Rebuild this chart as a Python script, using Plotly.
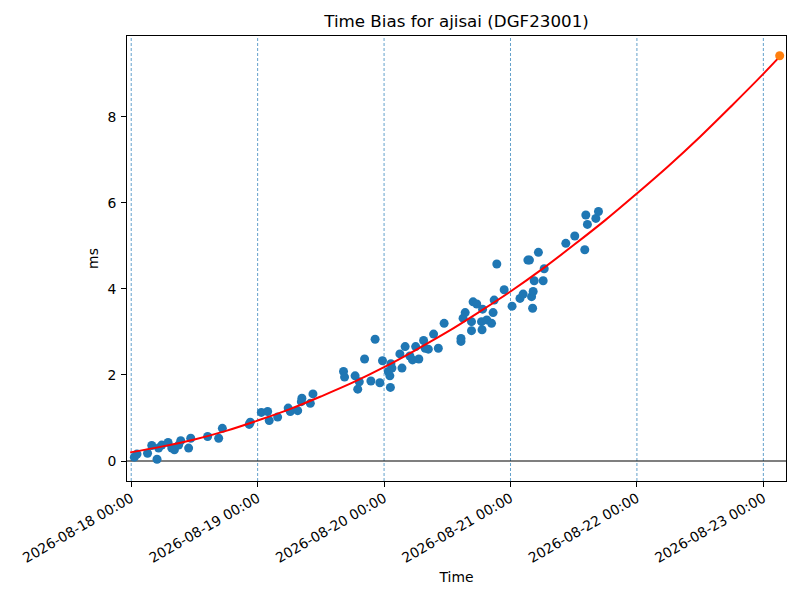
import pandas as pd
import plotly.graph_objects as go

START = pd.Timestamp("2026-08-18 00:00")

# measured time bias, hours since START and ms
obs_hours = [
    0.6, 1.1, 3.1, 4.9, 3.9, 5.2, 5.8, 7.0, 7.7, 8.2, 9.0, 9.4, 10.9, 11.3,
    14.5, 16.6, 17.3, 22.4, 22.6, 24.7, 25.9, 26.2, 27.8, 29.8, 30.2, 31.6,
    32.4, 32.3, 34.0, 34.5,
    40.3, 40.5, 42.5, 43.0, 43.3, 44.3, 45.5, 46.3, 47.2, 47.7, 48.8, 49.1,
    49.3, 49.2, 49.5, 51.0, 51.4, 52.0, 52.9, 53.4, 54.0, 54.6, 55.5, 55.8,
    56.4, 57.4, 58.3, 59.4,
    62.6, 62.6, 63.0, 63.4, 64.6, 64.6, 64.9, 65.6, 66.5, 66.6, 66.7, 67.5,
    68.4, 68.7, 68.9, 69.4, 70.8, 72.3, 73.8, 74.4, 75.3, 75.6, 76.0, 76.3,
    76.2, 76.5, 77.3, 78.2, 78.4,
    82.5, 84.2, 86.1, 86.3, 86.6, 88.2, 88.7,
]
obs_ms = [
    0.09, 0.16, 0.18, 0.04, 0.36, 0.30, 0.37, 0.43, 0.30, 0.26, 0.37, 0.47, 0.30, 0.53,
    0.57, 0.53, 0.76, 0.85, 0.90, 1.13, 1.15, 0.94, 1.02, 1.23, 1.15, 1.17,
    1.46, 1.38, 1.34, 1.56,
    2.08, 1.95, 1.98, 1.67, 1.84, 2.37, 1.86, 2.83, 1.82, 2.33, 2.08, 1.98,
    2.26, 1.71, 2.16, 2.49, 2.16, 2.66, 2.44, 2.35, 2.66, 2.37, 2.80, 2.62,
    2.60, 2.95, 2.62, 3.20,
    2.78, 2.85, 3.32, 3.45, 3.24, 3.03, 3.70, 3.65, 3.24, 3.05, 3.53, 3.28,
    3.20, 3.45, 3.74, 4.58, 3.98, 3.60, 3.78, 3.88, 4.67, 4.67, 3.82, 3.94,
    3.55, 4.19, 4.85, 4.19, 4.47,
    5.06, 5.23, 4.91, 5.72, 5.50, 5.64, 5.80,
]

# fitted trend
fit_hours = [-0.2, 6, 12, 18, 24, 30, 36, 42, 48, 54, 60, 66, 72, 78, 84,
             90, 96, 102, 108, 114, 120, 123.1]
fit_ms = [0.20, 0.34, 0.50, 0.70, 0.94, 1.20, 1.50, 1.82, 2.18, 2.58, 3.00,
          3.46, 3.94, 4.46, 5.02, 5.60, 6.22, 6.86, 7.54, 8.26, 9.00, 9.40]

# predicted value at the end of the fit
pred_hours = [123.1]
pred_ms = [9.42]

midnights = pd.date_range("2026-08-18", "2026-08-23", freq="D")
y_ticks = [0, 2, 4, 6, 8]


def to_time(hours):
    return START + pd.to_timedelta(hours, unit="h")


fig = go.Figure()

# day boundaries and the zero line sit under the data
for day in midnights:
    fig.add_vline(
        x=day, line=dict(color="#1f77b4", width=0.7, dash="3px,2px"), layer="below"
    )
fig.add_hline(y=0, line=dict(color="black", width=1.2), layer="below")

fig.add_trace(
    go.Scatter(
        x=to_time(obs_hours),
        y=obs_ms,
        mode="markers",
        marker=dict(color="#1f77b4", size=9),
        name="bias",
    )
)
fig.add_trace(
    go.Scatter(
        x=to_time(fit_hours),
        y=fit_ms,
        mode="lines",
        line=dict(color="red", width=2, shape="spline"),
        name="fit",
    )
)
fig.add_trace(
    go.Scatter(
        x=to_time(pred_hours),
        y=pred_ms,
        mode="markers",
        marker=dict(color="#ff7f0e", size=9),
        name="prediction",
    )
)

axis_style = dict(
    showline=True,
    linecolor="black",
    linewidth=1,
    mirror=True,
    ticks="outside",
    ticklen=5,
    tickcolor="black",
    tickfont=dict(size=13.9),
    showgrid=False,
    zeroline=False,
    automargin=False,
)

# the page body adds 8px around the figure, so the figure is 8px smaller
fig.update_layout(
    width=792,
    height=592,
    paper_bgcolor="white",
    plot_bgcolor="white",
    showlegend=False,
    font=dict(family="DejaVu Sans", size=13.9, color="black"),
    title=dict(
        text="Time Bias for ajisai (DGF23001)",
        x=(119 + 778) / 2 / 792,
        xanchor="center",
        y=1 - 13 / 592,
        yanchor="middle",
        font=dict(size=16.7),
        automargin=False,
    ),
    margin=dict(l=119, r=14, t=28, b=119),
    xaxis=dict(
        axis_style,
        title=dict(text="Time", standoff=7, font=dict(size=13.9)),
        range=[to_time(-0.8), to_time(124.3)],
        tickvals=list(midnights),
        tickformat="%Y-%m-%d %H:%M",
        tickangle=-30,
        ticklabelstandoff=-2,
    ),
    yaxis=dict(
        axis_style,
        title=dict(text="ms", standoff=5, font=dict(size=13.9)),
        range=[-0.465, 9.88],
        tickvals=y_ticks,
        ticklabelstandoff=2,
    ),
)

fig.write_html("out.html")
